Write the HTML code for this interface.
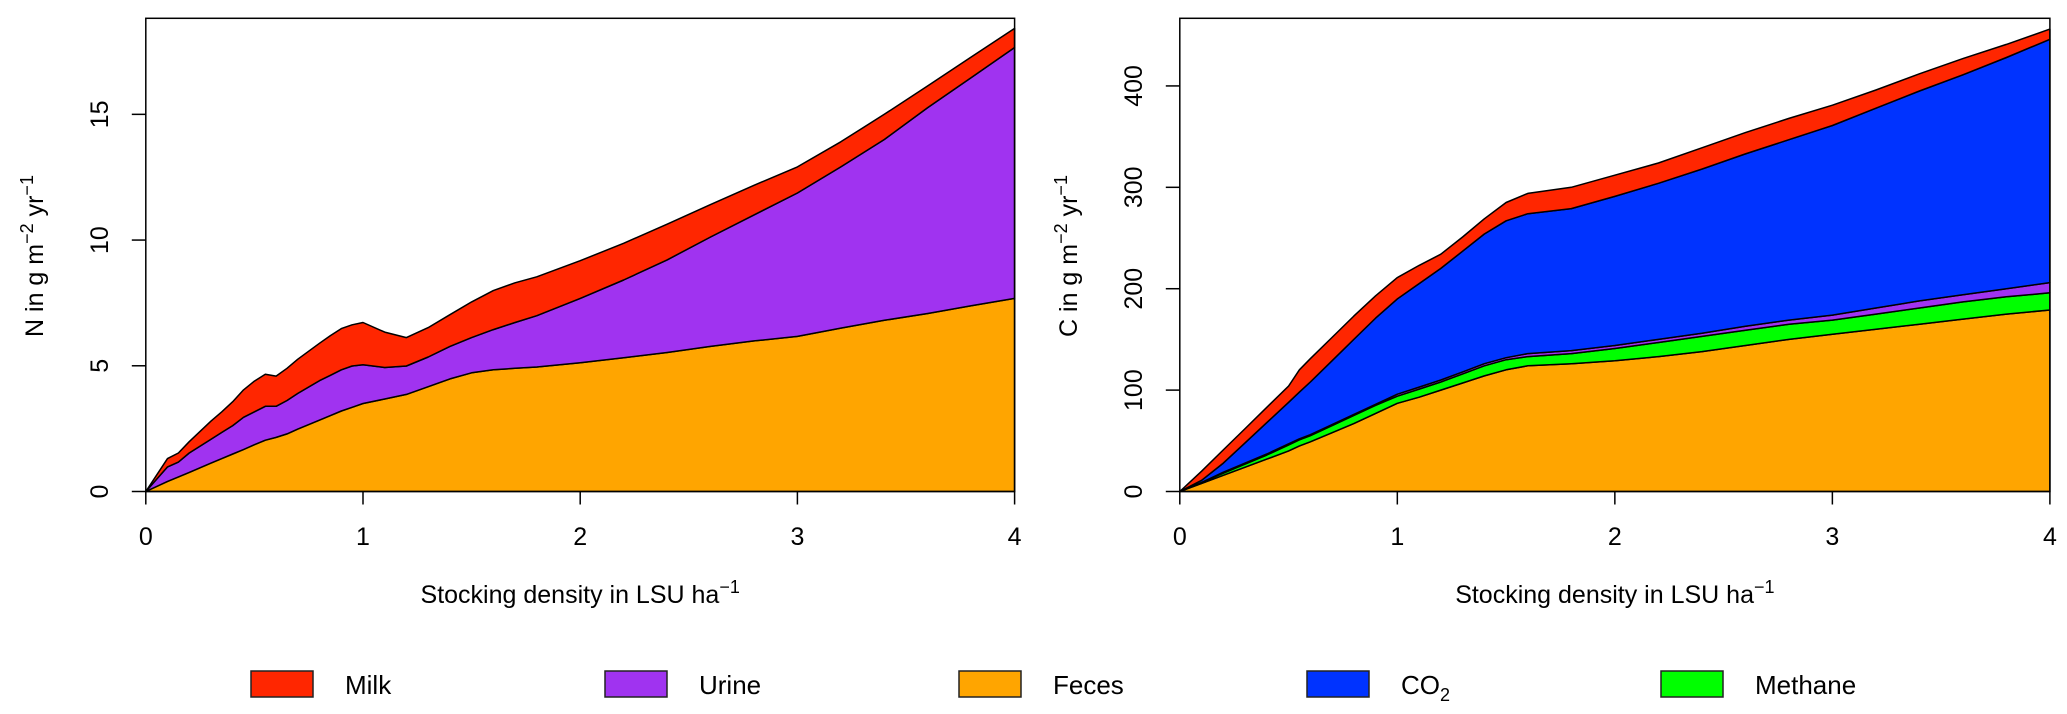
<!DOCTYPE html>
<html><head><meta charset="utf-8"><style>
html,body{margin:0;padding:0;background:#fff;}
svg{display:block;font-family:"Liberation Sans",Arial,sans-serif;}
</style></head><body>
<svg id="chart" width="2067" height="714" viewBox="0 0 2067 714" xmlns="http://www.w3.org/2000/svg">
<g id="left"></g>
<g id="right"></g>
<g id="legend"></g>
</svg>
<script>
// Nitrogen panel data (cumulative stack tops)
const nX = [0,0.1,0.15,0.2,0.3,0.35,0.4,0.45,0.5,0.55,0.6,0.65,0.7,0.8,0.85,0.9,0.95,1.0,1.1,1.2,1.3,1.4,1.5,1.6,1.7,1.8,2.0,2.2,2.4,2.6,2.8,3.0,3.2,3.4,3.6,3.8,4.0];
const nFecesCum = [0,0.4,0.58,0.76,1.13,1.31,1.49,1.67,1.86,2.04,2.15,2.29,2.48,2.84,3.02,3.2,3.35,3.5,3.68,3.86,4.17,4.48,4.72,4.84,4.9,4.95,5.12,5.32,5.53,5.77,5.99,6.17,6.5,6.81,7.08,7.39,7.68];
const nUrineCum = [0,0.98,1.17,1.53,2.08,2.35,2.62,2.95,3.17,3.39,3.39,3.62,3.9,4.41,4.62,4.84,4.99,5.04,4.93,4.99,5.35,5.77,6.12,6.44,6.72,6.99,7.68,8.41,9.21,10.12,11.0,11.87,12.91,14.0,15.27,16.46,17.66];
const nMilkCum = [0,1.31,1.53,1.98,2.8,3.17,3.57,4.04,4.39,4.66,4.59,4.9,5.26,5.9,6.2,6.48,6.63,6.72,6.34,6.12,6.52,7.03,7.54,7.99,8.3,8.54,9.18,9.87,10.63,11.41,12.18,12.91,13.91,15.0,16.13,17.28,18.42];
const nYTicks = [0,5,10,15];
// Carbon panel data (cumulative stack tops)
const cX = [0,0.1,0.2,0.3,0.4,0.5,0.55,0.6,0.7,0.8,0.9,1.0,1.1,1.2,1.3,1.4,1.5,1.6,1.8,2.0,2.2,2.4,2.6,2.8,3.0,3.2,3.4,3.6,3.8,4.0];
const cFecesCum = [0,8,16,24,32,40,45,49,58,67,77,87,93,100,107,114,120,124,126,129,133,138,144,150,155,160,165,170,175,179];
const cMethaneCum = [0,9,18,27,36,46,51,55,65,75,85,94,101,108,116,124,130,133,136,141,147,153,159,165,169,175,181,187,192,196];
const cUrineCum = [0,9,19,28,37,47,52,56,66,76,86,96,103,110,118,126,132,136,139,144,150,156,163,169,174,181,188,194,200,206];
const cCO2Cum = [0,11,28,48,68,88,98,108,129,150,171,190,205,220,237,254,267,274,279,291,304,318,333,347,361,378,395,411,428,446];
const cMilkCum = [0,20,41,62,83,104,120,131,152,173,193,211,223,234,251,269,285,294,300,312,324,339,354,368,381,396,412,427,441,456];
const cYTicks = [0,100,200,300,400];
const xTicks = [0,1,2,3,4];
const legendLabels = ["Milk","Urine","Feces","CO2","Methane"];

const NS="http://www.w3.org/2000/svg";
const COL={milk:"#FF2600",urine:"#A033F0",feces:"#FFA500",co2:"#0033FF",methane:"#00FF00"};
function mk(tag,attrs,parent){const e=document.createElementNS(NS,tag);for(const k in attrs)e.setAttribute(k,attrs[k]);parent.appendChild(e);return e;}

function panel(g,opt){
  const L=opt.left,R=opt.right,T=18.3,B=491.5;
  const sx=v=>L+(R-L)*v/4;
  const sy=v=>B-(B-T)*v/opt.ymax;
  let prev=opt.x.map(()=>0);
  opt.layers.forEach(ly=>{
    let d="M"+opt.x.map((xv,i)=>sx(xv).toFixed(1)+","+sy(ly.vals[i]).toFixed(1)).join("L");
    for(let i=opt.x.length-1;i>=0;i--) d+="L"+sx(opt.x[i]).toFixed(1)+","+sy(prev[i]).toFixed(1);
    d+="Z";
    const p=mk("path",{d:d,fill:ly.col,stroke:"#000","stroke-width":1.5,"stroke-linejoin":"round"},g);
    
    
    prev=ly.vals;
  });
  const box=mk("rect",{x:L,y:T,width:R-L,height:B-T,fill:"none",stroke:"#000","stroke-width":1.5},g);
  
  
  xTicks.forEach(t=>{
    const tl=mk("line",{x1:sx(t),x2:sx(t),y1:B,y2:B+13,stroke:"#000","stroke-width":1.5},g);
    
    
    const tx=mk("text",{x:sx(t),y:545,"font-size":25,"text-anchor":"middle"},g);
    tx.textContent=t;
    
    
  });
  opt.yticks.forEach(t=>{
    const y=sy(t);
    const tl=mk("line",{x1:L-14,x2:L,y1:y,y2:y,stroke:"#000","stroke-width":1.5},g);
    
    
    const tx=mk("text",{x:0,y:0,"font-size":25,"text-anchor":"middle",transform:"translate("+(L-38)+","+y+") rotate(-90)"},g);
    tx.textContent=t;
    
    
  });
  const xt=mk("text",{x:(L+R)/2,y:603,"font-size":25,"text-anchor":"middle"},g);
  xt.innerHTML='Stocking density in LSU ha<tspan dy="-10" font-size="18">−1</tspan>';
  
  
  const yt=mk("text",{x:0,y:0,"font-size":25,"text-anchor":"middle",transform:"translate("+(L-103)+",256) rotate(-90)"},g);
  yt.innerHTML=opt.ylab+' in g m<tspan dy="-10" font-size="18">−2</tspan><tspan dy="10"> yr</tspan><tspan dy="-10" font-size="18">−1</tspan>';
  
  
}

panel(document.getElementById("left"),{left:145.8,right:1014.6,ymax:18.82,x:nX,yticks:nYTicks,ylab:"N",
  layers:[{name:"feces",col:COL.feces,vals:nFecesCum},{name:"urine",col:COL.urine,vals:nUrineCum},{name:"milk",col:COL.milk,vals:nMilkCum}]});
panel(document.getElementById("right"),{left:1179.8,right:2049.9,ymax:466.7,x:cX,yticks:cYTicks,ylab:"C",
  layers:[{name:"feces",col:COL.feces,vals:cFecesCum},{name:"methane",col:COL.methane,vals:cMethaneCum},{name:"urine",col:COL.urine,vals:cUrineCum},{name:"co2",col:COL.co2,vals:cCO2Cum},{name:"milk",col:COL.milk,vals:cMilkCum}]});

const lg=document.getElementById("legend");
const lgCols=[COL.milk,COL.urine,COL.feces,COL.co2,COL.methane];
const lgX=[251,605,959,1307,1661];
legendLabels.forEach((lab,i)=>{
  const r=mk("rect",{x:lgX[i],y:671,width:62,height:26,fill:lgCols[i],stroke:"#222","stroke-width":1.5},lg);
  
  
  const t=mk("text",{x:lgX[i]+94,y:694,"font-size":26},lg);
  if(lab==="CO2") t.innerHTML='CO<tspan dy="7" font-size="18">2</tspan>'; else t.textContent=lab;
  
  
});
</script>
</body></html>
